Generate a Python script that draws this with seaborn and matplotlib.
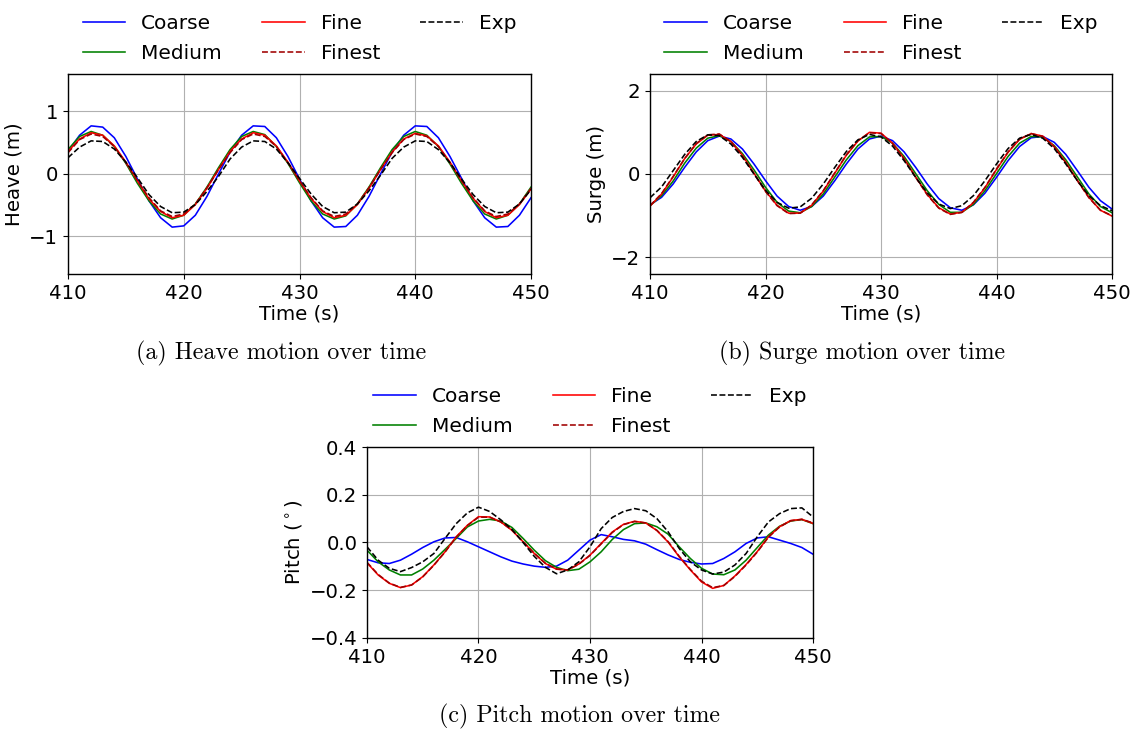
import numpy as np
import pandas as pd
import matplotlib
matplotlib.use("Agg")
import matplotlib.pyplot as plt
import seaborn as sns

# time axis (s), one sample per second
time = np.arange(410, 451)

labels = ["Coarse", "Medium", "Fine", "Finest", "Exp"]

# ---- heave (m) ----
heave_coarse = [0.36, 0.62, 0.77, 0.75, 0.58, 0.28, -0.08, -0.43, -0.70, -0.85, -0.83, -0.66, -0.36, 0.00,
                0.35, 0.62, 0.77, 0.76, 0.58, 0.28, -0.08, -0.43, -0.70, -0.85, -0.84, -0.66, -0.36, 0.00,
                0.35, 0.62, 0.77, 0.76, 0.58, 0.28, -0.07, -0.43, -0.70, -0.85, -0.84, -0.66, -0.38]
heave_medium = [0.39, 0.60, 0.68, 0.62, 0.44, 0.17, -0.15, -0.43, -0.64, -0.72, -0.66, -0.48, -0.21, 0.10,
                0.39, 0.60, 0.68, 0.63, 0.44, 0.17, -0.14, -0.43, -0.64, -0.72, -0.67, -0.48, -0.21, 0.10,
                0.39, 0.60, 0.68, 0.62, 0.44, 0.16, -0.15, -0.43, -0.64, -0.72, -0.66, -0.48, -0.21]
heave_fine = [0.36, 0.56, 0.66, 0.62, 0.45, 0.19, -0.11, -0.40, -0.60, -0.70, -0.66, -0.49, -0.23, 0.07,
              0.36, 0.56, 0.66, 0.62, 0.45, 0.19, -0.11, -0.39, -0.60, -0.70, -0.66, -0.49, -0.23, 0.07,
              0.35, 0.56, 0.65, 0.61, 0.45, 0.19, -0.11, -0.39, -0.60, -0.70, -0.66, -0.49, -0.24]
heave_finest = [0.34, 0.55, 0.64, 0.60, 0.44, 0.18, -0.11, -0.38, -0.59, -0.68, -0.64, -0.48, -0.22, 0.07,
                0.34, 0.55, 0.64, 0.60, 0.44, 0.18, -0.11, -0.38, -0.59, -0.68, -0.64, -0.48, -0.22, 0.07,
                0.34, 0.55, 0.64, 0.60, 0.44, 0.18, -0.11, -0.38, -0.59, -0.68, -0.64, -0.48, -0.23]
heave_exp = [0.26, 0.43, 0.53, 0.52, 0.40, 0.19, -0.06, -0.33, -0.52, -0.62, -0.61, -0.49, -0.28, -0.04,
             0.24, 0.43, 0.53, 0.52, 0.40, 0.18, -0.07, -0.32, -0.52, -0.62, -0.61, -0.48, -0.27, -0.02,
             0.25, 0.43, 0.53, 0.52, 0.39, 0.18, -0.08, -0.33, -0.52, -0.62, -0.61, -0.48, -0.25]

# ---- surge (m) ----
surge_coarse = [-0.74, -0.56, -0.24, 0.16, 0.53, 0.80, 0.91, 0.84, 0.60, 0.24, -0.16, -0.53, -0.78, -0.87,
                -0.78, -0.53, -0.16, 0.24, 0.60, 0.84, 0.91, 0.80, 0.53, 0.16, -0.24, -0.59, -0.81, -0.87,
                -0.74, -0.46, -0.08, 0.32, 0.66, 0.87, 0.90, 0.76, 0.47, 0.08, -0.32, -0.64, -0.84]
surge_medium = [-0.76, -0.52, -0.17, 0.26, 0.62, 0.86, 0.92, 0.78, 0.49, 0.10, -0.32, -0.68, -0.89, -0.93,
                -0.78, -0.48, -0.07, 0.34, 0.68, 0.89, 0.90, 0.74, 0.42, 0.01, -0.40, -0.73, -0.92, -0.92,
                -0.73, -0.40, 0.01, 0.42, 0.74, 0.90, 0.89, 0.68, 0.34, -0.07, -0.48, -0.78, -0.93]
surge_fine = [-0.77, -0.48, -0.07, 0.37, 0.72, 0.93, 0.95, 0.78, 0.45, 0.02, -0.41, -0.75, -0.94, -0.94,
              -0.75, -0.41, 0.02, 0.45, 0.79, 1.00, 0.98, 0.74, 0.37, -0.07, -0.49, -0.81, -0.96, -0.92,
              -0.69, -0.33, 0.11, 0.52, 0.83, 0.97, 0.91, 0.66, 0.28, -0.15, -0.56, -0.87, -1.01]
surge_finest = [-0.76, -0.47, -0.06, 0.37, 0.73, 0.94, 0.96, 0.78, 0.44, 0.01, -0.42, -0.76, -0.95, -0.94,
                -0.74, -0.40, 0.03, 0.46, 0.80, 0.99, 0.97, 0.73, 0.36, -0.08, -0.50, -0.82, -0.97, -0.92,
                -0.68, -0.32, 0.12, 0.53, 0.84, 0.97, 0.90, 0.65, 0.27, -0.16, -0.57, -0.87, -1.00]
surge_exp = [-0.57, -0.31, 0.08, 0.47, 0.78, 0.94, 0.92, 0.72, 0.40, 0.00, -0.39, -0.68, -0.82, -0.79,
             -0.58, -0.24, 0.16, 0.54, 0.82, 0.95, 0.89, 0.67, 0.32, -0.08, -0.45, -0.72, -0.83, -0.76,
             -0.52, -0.16, 0.24, 0.61, 0.86, 0.95, 0.86, 0.61, 0.24, -0.16, -0.52, -0.76, -0.88]

# ---- pitch (deg) ----
pitch_coarse = [-0.071, -0.085, -0.088, -0.074, -0.049, -0.021, 0.003, 0.019, 0.021, 0.003, -0.018, -0.039,
                -0.060, -0.078, -0.090, -0.099, -0.104, -0.099, -0.074, -0.032, 0.010, 0.033, 0.024, 0.013,
                0.007, -0.007, -0.030, -0.052, -0.071, -0.083, -0.090, -0.088, -0.067, -0.039, -0.004, 0.019,
                0.024, 0.010, -0.004, -0.021, -0.049]
pitch_medium = [-0.032, -0.081, -0.115, -0.136, -0.136, -0.111, -0.074, -0.029, 0.017, 0.065, 0.090, 0.097,
                0.090, 0.063, 0.017, -0.032, -0.076, -0.104, -0.118, -0.112, -0.081, -0.039, 0.013, 0.054,
                0.079, 0.082, 0.066, 0.035, -0.018, -0.067, -0.108, -0.132, -0.135, -0.115, -0.074, -0.021,
                0.031, 0.068, 0.090, 0.096, 0.079]
pitch_fine = [-0.085, -0.136, -0.171, -0.189, -0.178, -0.143, -0.094, -0.039, 0.024, 0.072, 0.108, 0.107,
              0.086, 0.051, 0.003, -0.046, -0.088, -0.112, -0.115, -0.090, -0.053, -0.004, 0.044, 0.076,
              0.089, 0.082, 0.050, 0.002, -0.060, -0.115, -0.165, -0.192, -0.180, -0.140, -0.092, -0.038,
              0.024, 0.066, 0.092, 0.097, 0.080]
pitch_finest = [-0.083, -0.134, -0.170, -0.188, -0.178, -0.144, -0.095, -0.040, 0.022, 0.071, 0.106, 0.106,
                0.086, 0.052, 0.004, -0.045, -0.087, -0.111, -0.115, -0.091, -0.054, -0.006, 0.042, 0.075,
                0.088, 0.082, 0.051, 0.004, -0.058, -0.113, -0.162, -0.189, -0.180, -0.142, -0.094, -0.040,
                0.022, 0.065, 0.091, 0.097, 0.082]
pitch_exp = [-0.018, -0.074, -0.108, -0.122, -0.105, -0.081, -0.046, 0.017, 0.079, 0.124, 0.148, 0.130,
             0.095, 0.055, 0.000, -0.058, -0.104, -0.131, -0.115, -0.081, -0.018, 0.058, 0.105, 0.130,
             0.142, 0.133, 0.100, 0.045, -0.025, -0.081, -0.115, -0.132, -0.124, -0.094, -0.046, 0.024,
             0.086, 0.121, 0.142, 0.145, 0.107]

palette = {"Coarse": "blue", "Medium": "green", "Fine": "red", "Finest": "#a00000", "Exp": "black"}
dashes = {"Coarse": "", "Medium": "", "Fine": "", "Finest": (3.7, 1.6), "Exp": (3.7, 1.6)}

plt.rcParams.update({"font.size": 14, "axes.linewidth": 1.0})


def make_df(series):
    frames = []
    for name, vals in zip(labels, series):
        frames.append(pd.DataFrame({"time": time, "value": vals, "case": name}))
    return pd.concat(frames, ignore_index=True)


def panel(ax, series, ylabel, ylim, yticks):
    df = make_df(series)
    sns.lineplot(data=df, x="time", y="value", hue="case", style="case",
                 palette=palette, dashes=dashes, hue_order=labels, style_order=labels,
                 linewidth=1.15, ax=ax)
    ax.set_xlim(410, 450)
    ax.set_ylim(*ylim)
    ax.set_xticks([410, 420, 430, 440, 450])
    ax.set_yticks(yticks)
    ax.tick_params(labelsize=14.2)
    ax.grid(True, color="#b0b0b0", linewidth=0.8)
    ax.set_axisbelow(True)
    ax.set_xlabel("Time (s)", fontsize=14.2, labelpad=1)
    ax.set_ylabel(ylabel, fontsize=14.2)
    ax.get_legend().remove()
    h, l = ax.get_legend_handles_labels()
    ax.legend(h, l, ncol=3, loc="lower center", bbox_to_anchor=(0.5, 1.0), frameon=False,
              fontsize=14.5, handlelength=2.1, columnspacing=2.0, labelspacing=0.55,
              borderaxespad=0.15)


fig = plt.figure(figsize=(11.39, 7.34), dpi=100)
ax1 = fig.add_axes([0.0597, 0.6267, 0.4065, 0.2725])
ax2 = fig.add_axes([0.5707, 0.6267, 0.4056, 0.2725])
ax3 = fig.add_axes([0.3222, 0.1308, 0.3916, 0.2602])

panel(ax1, [heave_coarse, heave_medium, heave_fine, heave_finest, heave_exp],
      "Heave (m)", (-1.6, 1.6), [-1, 0, 1])
panel(ax2, [surge_coarse, surge_medium, surge_fine, surge_finest, surge_exp],
      "Surge (m)", (-2.4, 2.4), [-2, 0, 2])
panel(ax3, [pitch_coarse, pitch_medium, pitch_fine, pitch_finest, pitch_exp],
      r"Pitch ($^\circ$)", (-0.4, 0.4), [-0.4, -0.2, 0.0, 0.2, 0.4])

cap = dict(fontsize=17.2, fontfamily="cmr10", ha="center", va="center")
fig.text(0.2467, 0.519, "(a) Heave motion over time", **cap)
fig.text(0.7568, 0.519, "(b) Surge motion over time", **cap)
fig.text(0.509, 0.0245, "(c) Pitch motion over time", **cap)

fig.savefig("out.png", dpi=100)
